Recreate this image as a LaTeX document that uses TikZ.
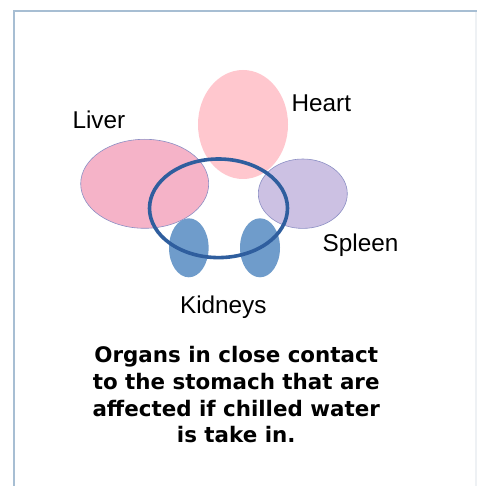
\documentclass[tikz,border=0pt]{standalone}
\usepackage{fontspec}
\setmainfont{Liberation Sans}
\newfontfamily\capfont{DejaVu Sans}
\definecolor{framec}{HTML}{A7BED3}
\definecolor{framefaint}{HTML}{EEF1F4}
\definecolor{liverc}{HTML}{F5B3C8}
\definecolor{heartc}{HTML}{FFC7CE}
\definecolor{spleenc}{HTML}{CCC1E3}
\definecolor{kidneyc}{HTML}{6F9CCB}
\definecolor{ringc}{HTML}{2F5E9E}
\definecolor{edgec}{HTML}{8C8FC4}
\tikzset{
  organlabel/.style={anchor=base, inner sep=0pt, font=\fontsize{24.3}{29}\selectfont},
  captionline/.style={anchor=base, inner sep=0pt, font=\capfont\bfseries\fontsize{21.4}{26.7}\selectfont},
  organedge/.style={draw=edgec, line width=0.6pt},
}
\begin{document}
\begin{tikzpicture}[x=1pt,y=-1pt]
\useasboundingbox (0,0) rectangle (477,486);
\fill[white] (0,0) rectangle (477,486);
% frame
\draw[framefaint, line width=1.2pt] (476,11) -- (476,486);
\draw[framec, line width=2pt] (14,486) -- (14,11) -- (477,11);
% organs
\fill[heartc] (243,124.5) ellipse [x radius=45pt, y radius=54.5pt];
\filldraw[fill=liverc, organedge] (144.7,183.8) ellipse [x radius=64pt, y radius=44.5pt];
\filldraw[fill=spleenc, organedge] (302.8,193.7) ellipse [x radius=44.5pt, y radius=34.7pt];
\fill[kidneyc] (188.8,247.8) ellipse [x radius=19.8pt, y radius=29.5pt];
\fill[kidneyc] (260,247.8) ellipse [x radius=20pt, y radius=29.5pt];
% stomach ring
\draw[ringc, line width=3.6pt] (218.5,208.3) ellipse [x radius=69pt, y radius=49.3pt];
% labels
\node[organlabel] (liver) at (98.9,128.3) {Liver};
\node[organlabel] (heart) at (321.3,111.7) {Heart};
\node[organlabel] (spleen) at (360.5,251.7) {Spleen};
\node[organlabel] (kidneys) at (223.3,313.3) {Kidneys};
% caption
\node[captionline] (cap1) at (236.2,362.7) {Organs in close contact};
\node[captionline] (cap2) at (236.2,389.3) {to the stomach that are};
\node[captionline] (cap3) at (236.2,416) {affected if chilled water};
\node[captionline] (cap4) at (236.2,442.7) {is take in.};
\end{tikzpicture}
\end{document}
